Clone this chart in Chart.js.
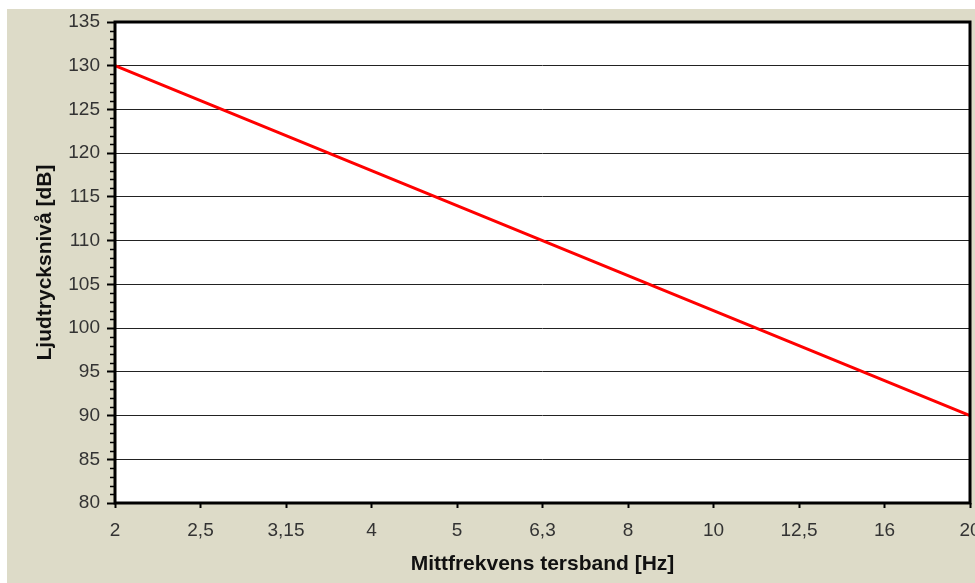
<!DOCTYPE html>
<html>
<head>
<meta charset="utf-8">
<script src="https://cdn.jsdelivr.net/npm/chart.js@4/dist/chart.umd.min.js"></script>
<style>
  html, body { margin: 0; padding: 0; background: #fff; }
  canvas { display: block; }
</style>
</head>
<body>
<canvas id="myChart" width="975" height="583"></canvas>
<script>
// tersband centre frequencies (Hz) and sound pressure level (dB)
const bands = ["2", "2,5", "3,15", "4", "5", "6,3", "8", "10", "12,5", "16", "20"];
const levels = [130, 126, 122, 118, 114, 110, 106, 102, 98, 94, 90];

const yMin = 80;
const yMax = 135;
const yStep = 5;

const bgPlugin = {
    id: 'bg',
    beforeDraw: function (chart) {
        const ctx = chart.ctx, a = chart.chartArea;
        ctx.save();
        ctx.fillStyle = '#ffffff';
        ctx.fillRect(0, 0, chart.width, chart.height);
        ctx.fillStyle = 'rgb(221,219,200)';
        ctx.fillRect(7, 9, chart.width - 7, chart.height - 9);
        ctx.fillStyle = '#ffffff';
        ctx.fillRect(a.left, a.top, a.right - a.left, a.bottom - a.top);
        ctx.restore();
    },
    afterDraw: function (chart) {
        const ctx = chart.ctx, a = chart.chartArea, y = chart.scales.y;
        ctx.save();
        // minor ticks on the y axis, every 1 dB
        ctx.strokeStyle = '#000';
        ctx.lineWidth = 1.5;
        ctx.beginPath();
        for (let v = yMin; v <= yMax; v++) {
            if (v % yStep === 0) continue;
            const py = Math.round(y.getPixelForValue(v)) + 0.5;
            ctx.moveTo(a.left - 5, py);
            ctx.lineTo(a.left, py);
        }
        ctx.stroke();
        // plot frame
        ctx.lineWidth = 3;
        ctx.strokeRect(a.left, a.top, a.right - a.left, a.bottom - a.top);
        ctx.restore();
    }
};

const ctx = document.getElementById('myChart');

const myChart = new Chart(ctx, {
    type: 'line',
    data: {
        labels: bands,
        datasets: [{
            data: levels,
            borderColor: '#ff0000',
            borderWidth: 3,
            pointRadius: 0,
            tension: 0,
            fill: false
        }]
    },
    options: {
        responsive: false,
        animation: false,
        devicePixelRatio: 1,
        layout: {
            autoPadding: false,
            padding: { left: 7, top: 22, right: 5, bottom: 0 }
        },
        plugins: {
            legend: { display: false },
            tooltip: { enabled: false }
        },
        scales: {
            x: {
                type: 'category',
                offset: false,
                afterFit: function (s) {
                    s.height = 80;
                    // let the last label run off the edge like the original
                    s.paddingLeft = 0;
                    s.paddingRight = 0;
                },
                grid: {
                    drawOnChartArea: false,
                    drawTicks: true,
                    tickLength: 5,
                    tickColor: '#000',
                    tickWidth: 2
                },
                border: { display: false },
                ticks: {
                    autoSkip: false,
                    maxRotation: 0,
                    padding: 11,
                    color: '#333',
                    font: { family: 'Liberation Sans, Arial, sans-serif', size: 19 }
                },
                title: {
                    display: true,
                    text: 'Mittfrekvens tersband [Hz]',
                    color: '#111',
                    font: { family: 'Liberation Sans, Arial, sans-serif', size: 21, weight: 'bold' },
                    padding: { top: 0, bottom: 6 }
                }
            },
            y: {
                min: yMin,
                max: yMax,
                afterFit: function (s) { s.width = 108; },
                grid: {
                    color: '#222',
                    lineWidth: 1,
                    drawTicks: true,
                    tickLength: 8,
                    tickColor: '#000',
                    tickWidth: 2
                },
                border: { display: false },
                ticks: {
                    stepSize: yStep,
                    padding: 7,
                    color: '#333',
                    font: { family: 'Liberation Sans, Arial, sans-serif', size: 19 }
                },
                title: {
                    display: true,
                    text: 'Ljudtrycksnivå [dB]',
                    color: '#111',
                    font: { family: 'Liberation Sans, Arial, sans-serif', size: 21, weight: 'bold' },
                    padding: { top: 26, bottom: 0 }
                }
            }
        }
    },
    plugins: [bgPlugin]
});
</script>
</body>
</html>
